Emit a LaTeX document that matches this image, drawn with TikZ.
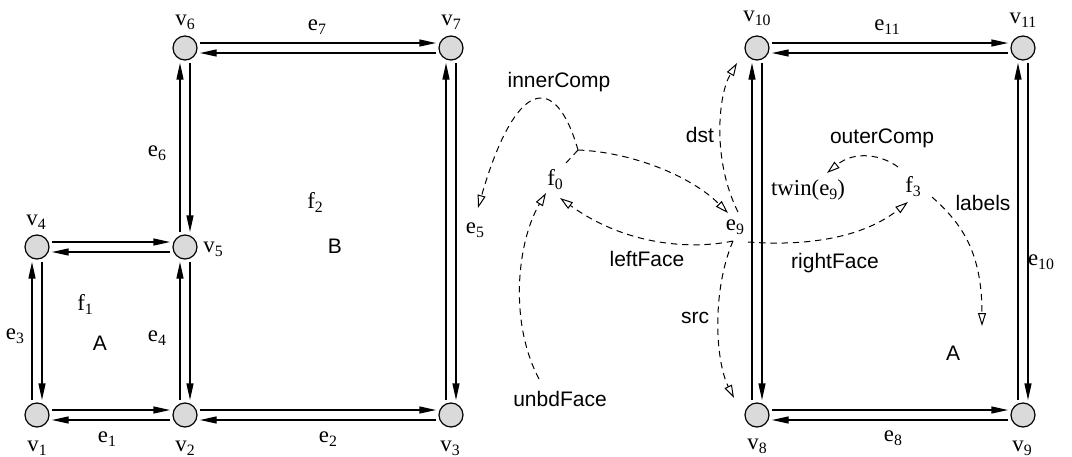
\documentclass[tikz,border=0pt]{standalone}
\usepackage{fontspec}
\setmainfont{Liberation Serif}
\newfontfamily\labsans{Liberation Sans}
\usetikzlibrary{arrows.meta,calc}
\definecolor{vfill}{RGB}{218,218,218}
\newcommand\sbs[1]{\raisebox{-2pt}{\fontsize{7.9}{8}\selectfont #1}}
\newcommand\hpair[2]{%
  \draw[he] ($(#1)+(15,-5)$) -- ($(#2)+(-15,-5)$);
  \draw[he] ($(#2)+(-15,5)$) -- ($(#1)+(15,5)$);}
\newcommand\vpair[2]{%
  \draw[he] ($(#1)+(-5,-15)$) -- ($(#2)+(-5,15)$);
  \draw[he] ($(#2)+(5,15)$) -- ($(#1)+(5,-15)$);}
\begin{document}
\begin{tikzpicture}[x=0.5pt,y=-0.5pt,
  vtx/.style={circle,draw,fill=vfill,minimum size=12pt,inner sep=0pt,line width=0.6pt},
  he/.style={line width=0.6pt,-{Triangle[length=8.3pt,width=3.5pt]}},
  ptrline/.style={line width=0.5pt,dash pattern=on 3.2pt off 2.4pt},
  ptr/.style={ptrline,-{Triangle[open,length=6.5pt,width=4pt]}},
  ser/.style={font=\fontsize{11.4}{13}\selectfont,inner sep=0pt},
  sans/.style={font=\labsans\fontsize{10.5}{12}\selectfont,inner sep=0pt}]
\useasboundingbox (0,0) rectangle (1072,456);
% vertices
\node[vtx] (v1) at (37,415) {};
\node[vtx] (v2) at (185,415) {};
\node[vtx] (v3) at (451,415) {};
\node[vtx] (v4) at (37,247) {};
\node[vtx] (v5) at (185,247) {};
\node[vtx] (v6) at (185,48) {};
\node[vtx] (v7) at (451,48) {};
\node[vtx] (v8) at (757,415) {};
\node[vtx] (v9) at (1023,415) {};
\node[vtx] (v10) at (757,48) {};
\node[vtx] (v11) at (1023,48) {};
% half-edge pairs
\hpair{v6}{v7}
\vpair{v5}{v6}
\vpair{v3}{v7}
\hpair{v4}{v5}
\vpair{v1}{v4}
\vpair{v2}{v5}
\hpair{v1}{v2}
\hpair{v2}{v3}
\hpair{v10}{v11}
\vpair{v8}{v10}
\vpair{v9}{v11}
\hpair{v8}{v9}
% serif labels
\node[ser] (lv6) at (185,22) {v\sbs{6}};
\node[ser] (lv7) at (451,22) {v\sbs{7}};
\node[ser] (le7) at (317,27) {e\sbs{7}};
\node[ser] (le6) at (157,153) {e\sbs{6}};
\node[ser] (lf2) at (315,202) {f\sbs{2}};
\node[ser] (lv4) at (36,222) {v\sbs{4}};
\node[ser] (lv5) at (213,249) {v\sbs{5}};
\node[ser] (lf1) at (85,304) {f\sbs{1}};
\node[ser] (le3) at (15,336) {e\sbs{3}};
\node[ser] (le4) at (157,338) {e\sbs{4}};
\node[ser] (lv1) at (37,448) {v\sbs{1}};
\node[ser] (le1) at (107,439) {e\sbs{1}};
\node[ser] (lv2) at (185,448) {v\sbs{2}};
\node[ser] (le2) at (328,439) {e\sbs{2}};
\node[ser] (lv3) at (450,448) {v\sbs{3}};
\node[ser] (e5) at (475,230) {e\sbs{5}};
\node[ser] (f0) at (555,180) {f\sbs{0}};
\node[ser] (e9) at (735,227) {e\sbs{9}};
\node[ser] (lv10) at (757,18) {v\sbs{10}};
\node[ser] (twin) at (808,190) {twin(e\sbs{9})};
\node[ser] (f3) at (913,187) {f\sbs{3}};
\node[ser] (le10) at (1041,262) {e\sbs{10}};
\node[ser] (le11) at (887,27) {e\sbs{11}};
\node[ser] (lv11) at (1023,20) {v\sbs{11}};
\node[ser] (le8) at (893,438) {e\sbs{8}};
\node[ser] (lv9) at (1022,448) {v\sbs{9}};
\node[ser] (lv8) at (757,446) {v\sbs{8}};
% sans labels
\node[sans] (Bl) at (335,246) {B};
\node[sans] (Al) at (100,343) {A};
\node[sans] (Ar) at (953,353) {A};
\node[sans] (inner) at (559,82) {innerComp};
\node[sans] (dstl) at (700,135) {dst};
\node[sans] (leftl) at (647,259) {leftFace};
\node[sans] (unbd) at (560,399) {unbdFace};
\node[sans] (srcl) at (695,318) {src};
\node[sans] (outer) at (882,138) {outerComp};
\node[sans] (labl) at (983,203) {labels};
\node[sans] (rightl) at (835,263) {rightFace};
% pointers
\coordinate (J) at (578,150);
\draw[ptrline] ($(f0)+(11,-17)$) -- (J);
\draw[ptr] (J) .. controls (555,70) and (515,80) .. ($(e5)+(3,-22)$);
\draw[ptr] (J) .. controls (630,152) and (690,175) .. ($(e9)+(-7,-14)$);
\draw[ptr] ($(e9)+(3,-15)$) .. controls (712,160) and (718,95) .. ($(v10)+(-20,15)$);
\draw[ptr] ($(e9)+(-2,14)$) .. controls (690,250) and (625,245) .. ($(f0)+(5,18)$);
\draw[ptr] ($(e9)+(-2,14)$) .. controls (712,290) and (715,360) .. ($(v8)+(-23,-17)$);
\draw[ptr] ($(unbd)+(-21,-20)$) .. controls (508,320) and (518,240) .. ($(f0)+(-9,13)$);
\draw[ptr] ($(e9)+(13,15)$) .. controls (800,246) and (860,240) .. ($(f3)+(-5,15)$);
\draw[ptr] ($(f3)+(-15,-20)$) .. controls (882,155) and (855,150) .. ($(twin)+(19,-17)$);
\draw[ptr] ($(f3)+(19,10)$) .. controls (960,222) and (982,250) .. ($(Ar)+(29,-27)$);
\end{tikzpicture}
\end{document}
